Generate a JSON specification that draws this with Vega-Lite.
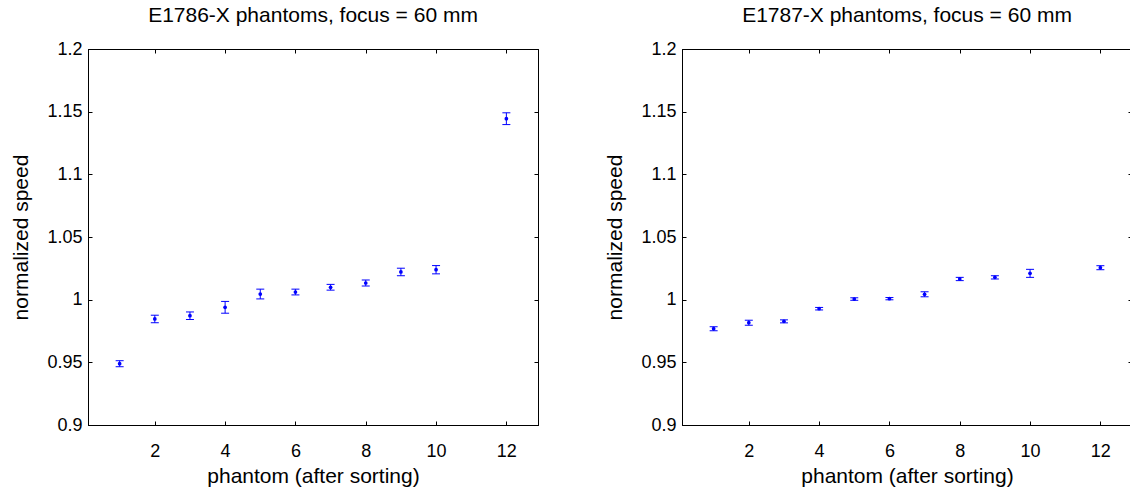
{
  "$schema": "https://vega.github.io/schema/vega-lite/v6.json",
  "padding": {"left": 10, "top": 4, "right": 0, "bottom": 0},
  "background": "white",
  "config": {
    "font": "Liberation Sans",
    "view": {"stroke": "black", "strokeWidth": 1},
    "axis": {
      "grid": false,
      "domainColor": "black",
      "tickColor": "black",
      "labelColor": "black",
      "titleColor": "black",
      "labelFont": "Liberation Sans",
      "titleFont": "Liberation Sans",
      "labelFontSize": 18,
      "titleFontSize": 21,
      "titleFontWeight": "normal",
      "tickSize": -4,
      "labelFlush": false,
      "labelOverlap": false
    }
  },
  "datasets": {
    "d": [
      {"panel": "E1786", "phantom": 1, "speed": 0.9489, "lo": 0.9465, "hi": 0.9513},
      {"panel": "E1786", "phantom": 2, "speed": 0.9846, "lo": 0.9816, "hi": 0.9876},
      {"panel": "E1786", "phantom": 3, "speed": 0.9872, "lo": 0.9842, "hi": 0.9902},
      {"panel": "E1786", "phantom": 4, "speed": 0.9939, "lo": 0.9892, "hi": 0.9986},
      {"panel": "E1786", "phantom": 5, "speed": 1.0045, "lo": 1.0006, "hi": 1.0084},
      {"panel": "E1786", "phantom": 6, "speed": 1.0061, "lo": 1.0038, "hi": 1.0084},
      {"panel": "E1786", "phantom": 7, "speed": 1.0099, "lo": 1.0076, "hi": 1.0122},
      {"panel": "E1786", "phantom": 8, "speed": 1.0133, "lo": 1.0109, "hi": 1.0157},
      {"panel": "E1786", "phantom": 9, "speed": 1.0221, "lo": 1.0191, "hi": 1.0251},
      {"panel": "E1786", "phantom": 10, "speed": 1.0239, "lo": 1.0206, "hi": 1.0272},
      {"panel": "E1786", "phantom": 12, "speed": 1.1444, "lo": 1.1397, "hi": 1.1491},
      {"panel": "E1787", "phantom": 1, "speed": 0.9768, "lo": 0.9752, "hi": 0.9784},
      {"panel": "E1787", "phantom": 2, "speed": 0.9816, "lo": 0.9796, "hi": 0.9836},
      {"panel": "E1787", "phantom": 3, "speed": 0.9827, "lo": 0.9815, "hi": 0.9839},
      {"panel": "E1787", "phantom": 4, "speed": 0.9928, "lo": 0.9918, "hi": 0.9938},
      {"panel": "E1787", "phantom": 5, "speed": 1.0005, "lo": 0.9995, "hi": 1.0015},
      {"panel": "E1787", "phantom": 6, "speed": 1.0008, "lo": 0.9999, "hi": 1.0017},
      {"panel": "E1787", "phantom": 7, "speed": 1.0043, "lo": 1.0023, "hi": 1.0063},
      {"panel": "E1787", "phantom": 8, "speed": 1.0165, "lo": 1.0152, "hi": 1.0178},
      {"panel": "E1787", "phantom": 9, "speed": 1.0178, "lo": 1.0165, "hi": 1.0191},
      {"panel": "E1787", "phantom": 10, "speed": 1.021, "lo": 1.0178, "hi": 1.0242},
      {"panel": "E1787", "phantom": 12, "speed": 1.0255, "lo": 1.0239, "hi": 1.0271}
    ]
  },
  "spacing": 65,
  "hconcat": [
    {
      "title": {"text": "E1786-X phantoms, focus = 60 mm", "font": "Liberation Sans", "fontSize": 21, "fontWeight": "normal", "color": "black", "offset": 14},
      "width": 450,
      "height": 376,
      "data": {"name": "d"},
      "transform": [{"filter": "datum.panel == 'E1786'"}],
      "layer": [
        {
          "mark": {"type": "rule", "color": "#0000ff", "strokeWidth": 1},
          "encoding": {
            "x": {"field": "phantom", "type": "quantitative", "scale": {"domain": [0.1, 12.9], "nice": false, "zero": false},
              "axis": {"orient": "bottom", "values": [2, 4, 6, 8, 10, 12], "title": "phantom (after sorting)", "labelPadding": 21, "titlePadding": 5}},
            "y": {"field": "lo", "type": "quantitative", "scale": {"domain": [0.9, 1.2], "nice": false, "zero": false},
              "axis": {"orient": "left", "values": [0.9, 0.95, 1, 1.05, 1.1, 1.15, 1.2], "format": "~g", "title": "normalized speed", "labelPadding": 10, "titlePadding": 15}},
            "y2": {"field": "hi"}
          }
        },
        {
          "mark": {"type": "tick", "color": "#0000ff", "orient": "horizontal", "size": 8, "thickness": 1, "opacity": 1},
          "encoding": {
            "x": {"field": "phantom", "type": "quantitative", "axis": null},
            "y": {"field": "lo", "type": "quantitative", "axis": null}
          }
        },
        {
          "mark": {"type": "tick", "color": "#0000ff", "orient": "horizontal", "size": 8, "thickness": 1, "opacity": 1},
          "encoding": {
            "x": {"field": "phantom", "type": "quantitative", "axis": null},
            "y": {"field": "hi", "type": "quantitative", "axis": null}
          }
        },
        {
          "mark": {"type": "point", "filled": true, "color": "#0000ff", "size": 14, "opacity": 1},
          "encoding": {
            "x": {"field": "phantom", "type": "quantitative", "axis": {"orient": "top", "values": [2, 4, 6, 8, 10, 12], "labels": false, "title": null}},
            "y": {"field": "speed", "type": "quantitative", "axis": {"orient": "right", "values": [0.9, 0.95, 1, 1.05, 1.1, 1.15, 1.2], "labels": false, "title": null}}
          }
        }
      ],
      "resolve": {"axis": {"x": "independent", "y": "independent"}}
    },
    {
      "title": {"text": "E1787-X phantoms, focus = 60 mm", "font": "Liberation Sans", "fontSize": 21, "fontWeight": "normal", "color": "black", "offset": 14},
      "width": 450,
      "height": 376,
      "data": {"name": "d"},
      "transform": [{"filter": "datum.panel == 'E1787'"}],
      "layer": [
        {
          "mark": {"type": "rule", "color": "#0000ff", "strokeWidth": 1},
          "encoding": {
            "x": {"field": "phantom", "type": "quantitative", "scale": {"domain": [0.1, 12.9], "nice": false, "zero": false},
              "axis": {"orient": "bottom", "values": [2, 4, 6, 8, 10, 12], "title": "phantom (after sorting)", "labelPadding": 21, "titlePadding": 5}},
            "y": {"field": "lo", "type": "quantitative", "scale": {"domain": [0.9, 1.2], "nice": false, "zero": false},
              "axis": {"orient": "left", "values": [0.9, 0.95, 1, 1.05, 1.1, 1.15, 1.2], "format": "~g", "title": "normalized speed", "labelPadding": 10, "titlePadding": 15}},
            "y2": {"field": "hi"}
          }
        },
        {
          "mark": {"type": "tick", "color": "#0000ff", "orient": "horizontal", "size": 8, "thickness": 1, "opacity": 1},
          "encoding": {
            "x": {"field": "phantom", "type": "quantitative", "axis": null},
            "y": {"field": "lo", "type": "quantitative", "axis": null}
          }
        },
        {
          "mark": {"type": "tick", "color": "#0000ff", "orient": "horizontal", "size": 8, "thickness": 1, "opacity": 1},
          "encoding": {
            "x": {"field": "phantom", "type": "quantitative", "axis": null},
            "y": {"field": "hi", "type": "quantitative", "axis": null}
          }
        },
        {
          "mark": {"type": "point", "filled": true, "color": "#0000ff", "size": 14, "opacity": 1},
          "encoding": {
            "x": {"field": "phantom", "type": "quantitative", "axis": {"orient": "top", "values": [2, 4, 6, 8, 10, 12], "labels": false, "title": null}},
            "y": {"field": "speed", "type": "quantitative", "axis": {"orient": "right", "values": [0.9, 0.95, 1, 1.05, 1.1, 1.15, 1.2], "labels": false, "title": null}}
          }
        }
      ],
      "resolve": {"axis": {"x": "independent", "y": "independent"}}
    }
  ]
}
